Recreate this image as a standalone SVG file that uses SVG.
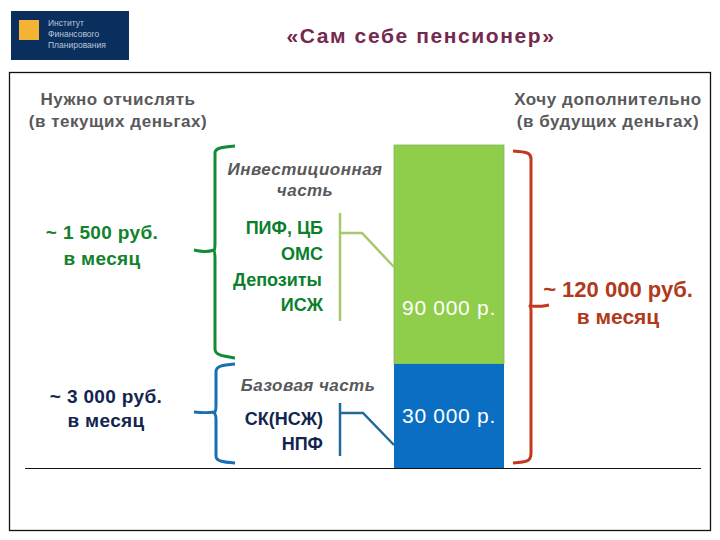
<svg xmlns="http://www.w3.org/2000/svg" width="720" height="540" viewBox="0 0 720 540">
<style>
text{font-family:"Liberation Sans",Arial,sans-serif;text-anchor:middle}
.b{font-weight:700}
.g{fill:#59595b;font-size:17px;font-weight:700;letter-spacing:.55px}
.i{fill:#59595b;font-size:17px;font-weight:700;font-style:italic;letter-spacing:.45px}
.am{font-size:19px;font-weight:700;letter-spacing:.35px}
.gr{fill:#0a7f2e;font-size:18px;font-weight:700}
.nv{fill:#12254f;font-size:18px;font-weight:700}
.w{fill:#fff;font-size:21px;letter-spacing:.7px}
.re{fill:#b03a1a;font-weight:700}
.f{fill:none;stroke-width:3;stroke-linejoin:round}
.e{text-anchor:end}
.lg{text-anchor:start;font-size:8.5px;fill:#b9c6d6}
</style>
<rect width="720" height="540" fill="#fff"/>
<g id="logo">
<rect x="11" y="11" width="118" height="49" fill="#0a2f5f"/>
<rect x="19" y="20" width="20" height="20" fill="#f5b335"/>
<text x="48" y="26" class="lg">Институт</text>
<text x="48" y="37" class="lg">Финансового</text>
<text x="48" y="48" class="lg">Планирования</text>
</g>
<g id="title"><text x="421" y="43" class="b" style="font-size:21px;letter-spacing:1.600px" fill="#76294f">«Сам себе пенсионер»</text></g>
<g id="frame"><rect x="9.500" y="72.500" width="701" height="458" fill="none" stroke="#111" stroke-width="1.300"/></g>
<g id="left-header"><text x="118" y="105" class="g">Нужно отчислять</text><text x="118" y="127" class="g">(в текущих деньгах)</text></g>
<g id="right-header"><text x="608" y="105" class="g">Хочу дополнительно</text><text x="608" y="127" class="g">(в будущих деньгах)</text></g>
<g id="bar-green"><rect x="394" y="145" width="110" height="219" fill="#8fce4b" stroke="#86b45a" stroke-width=".8"/><text x="449" y="315" class="w">90 000 р.</text></g>
<g id="bar-blue"><rect x="394" y="364" width="110" height="104" fill="#0a6fc2"/><text x="449" y="423" class="w">30 000 р.</text></g>
<g id="axis"><path d="M25 468.500H701" stroke="#111" stroke-width="1.200"/></g>
<g id="connectors">
<path class="f" stroke="#138a36" d="M235 146C222 147 215 148 215 153V243Q215 251 214 251Q215 251 215 259V349C215 355 222 356 235 358"/>
<path class="f" stroke="#138a36" d="M194 250C204 252 208 252 214 250"/>
<path class="f" stroke="#1a6fb4" d="M235 364C222 365 216 366 216 372V405Q216 412 214 413Q216 414 216 420V456C216 461 222 462 235 463"/>
<path class="f" stroke="#1a6fb4" d="M194 412C204 413 208 413 214 412"/>
<path class="f" stroke="#c2391f" d="M513 151C528 152 531 153 531 159V300Q531 305 530 306Q531 307 531 312V453C531 461 528 462 513 463"/>
<path class="f" stroke="#c2391f" d="M531 306C540 307 543 306 549 305"/>
<path d="M340 213V321M340 233H362L394 267" fill="none" stroke="#a9c86b" stroke-width="2.500"/>
<path d="M340 403V456M340 413H363L394 445" fill="none" stroke="#1f6a96" stroke-width="2.500"/>
</g>
<g id="left-amounts">
<text x="102" y="239" class="am" fill="#12822c">~ 1 500 руб.</text><text x="102" y="265" class="am" fill="#12822c">в месяц</text>
<text x="106" y="403" class="am" fill="#12254f">~ 3 000 руб.</text><text x="106" y="427" class="am" fill="#12254f">в месяц</text>
</g>
<g id="invest-label"><text x="305" y="175" class="i">Инвестиционная</text><text x="305" y="196" class="i">часть</text></g>
<g id="invest-items">
<text x="323" y="234" class="gr e">ПИФ, ЦБ</text>
<text x="323" y="260" class="gr e">ОМС</text>
<text x="322" y="286" class="gr e">Депозиты</text>
<text x="323" y="311" class="gr e">ИСЖ</text>
</g>
<g id="base-label"><text x="308" y="391" class="i">Базовая часть</text></g>
<g id="base-items">
<text x="323" y="425" class="nv e">СК(НСЖ)</text>
<text x="323" y="450" class="nv e">НПФ</text>
</g>
<g id="right-amount"><text x="618" y="297" class="re" style="font-size:22px">~ 120 000 руб.</text><text x="618" y="324" class="re" style="font-size:21px">в месяц</text></g>
</svg>
